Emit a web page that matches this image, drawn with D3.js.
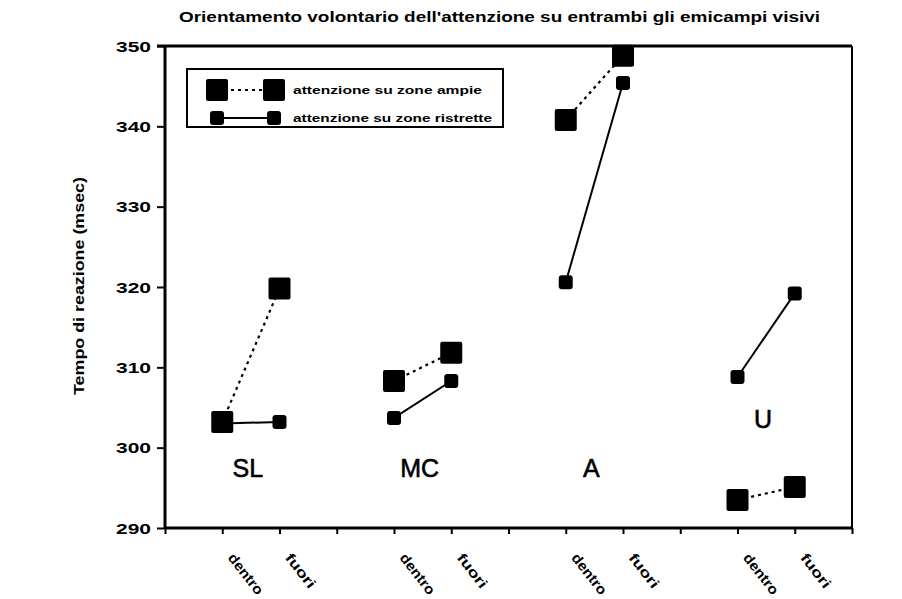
<!DOCTYPE html>
<html>
<head>
<meta charset="utf-8">
<script src="https://cdn.jsdelivr.net/npm/d3@7"></script>
<style>
  html, body { margin: 0; padding: 0; background: #fff; }
  svg { display: block; }
  text { font-family: "Liberation Sans", Arial, sans-serif; fill: #000; }
</style>
</head>
<body>
<svg id="chart" width="902" height="599"></svg>
<script>
// ---- data ----
const categories = ["SL", "MC", "A", "U"];
const conditions = ["dentro", "fuori"];
const ampieDentro = [303.2, 308.3, 340.8, 293.5];
const ampieFuori  = [319.8, 311.8, 348.8, 295.1];
const ristretteDentro = [303.0, 303.7, 320.6, 308.8];
const ristretteFuori  = [303.2, 308.3, 345.4, 319.2];
const yTicks = [290, 300, 310, 320, 330, 340, 350];
const groupLabelY = [296.3, 296.3, 296.3, 302.4];
const title = "Orientamento volontario dell'attenzione su entrambi gli emicampi visivi";
const yTitle = "Tempo di reazione (msec)";
const legendLabels = ["attenzione su zone ampie", "attenzione su zone ristrette"];

// ---- layout ----
const svg = d3.select("#chart");
const L = 165, R = 852, T = 46, B = 528;
const x = d3.scaleLinear().domain([0, 12]).range([L, R]);
const y = d3.scaleLinear().domain([290, 350]).range([B, T]);

// positions: group g -> dentro at 3g+1, fuori at 3g+2
const pos = (g, c) => 3 * g + 1 + c;

// title
svg.append("text")
  .attr("x", 179).attr("y", 22)
  .attr("font-size", 14).attr("font-weight", "bold")
  .attr("textLength", 641).attr("lengthAdjust", "spacingAndGlyphs")
  .text(title);

// y axis title
svg.append("text")
  .attr("transform", `translate(84,${(177 + 395) / 2}) rotate(-90)`)
  .attr("text-anchor", "middle")
  .attr("font-size", 15).attr("font-weight", "bold")
  .attr("textLength", 218).attr("lengthAdjust", "spacingAndGlyphs")
  .text(yTitle);

// frame top/right
svg.append("line").attr("x1", L - 8).attr("x2", R).attr("y1", T).attr("y2", T)
  .attr("stroke", "#000").attr("stroke-width", 3);
svg.append("line").attr("x1", R).attr("x2", R).attr("y1", T).attr("y2", B)
  .attr("stroke", "#000").attr("stroke-width", 2);

// y axis
const yAxis = d3.axisLeft(y).tickValues(yTicks).tickSize(8).tickPadding(6).tickFormat(d3.format("d"));
const gy = svg.append("g").attr("transform", `translate(${L},0)`).call(yAxis);
gy.select(".domain").attr("stroke-width", 3).attr("d", `M0,${T}V${B}`);
gy.selectAll(".tick line").attr("stroke-width", 2);
gy.selectAll(".tick text")
  .attr("font-family", "Liberation Sans, Arial, sans-serif")
  .attr("font-size", 15).attr("font-weight", "bold")
  .attr("textLength", 35).attr("lengthAdjust", "spacingAndGlyphs")
  .attr("dy", "0.35em");

// x axis
const xAxis = d3.axisBottom(x).tickValues(d3.range(0, 13)).tickSize(6).tickFormat("");
const gx = svg.append("g").attr("transform", `translate(0,${B})`).call(xAxis);
gx.select(".domain").attr("stroke-width", 3).attr("d", `M${L},0H${R}`);
gx.selectAll(".tick line").attr("stroke-width", 2);

// x tick labels (rotated)
const xLabels = [];
categories.forEach((c, g) => conditions.forEach((cond, k) => xLabels.push({ v: pos(g, k), t: cond })));
svg.append("g").selectAll("text").data(xLabels).join("text")
  .attr("transform", d => `translate(${x(d.v) + 5},${B + 30}) rotate(52)`)
  .attr("font-size", 14).attr("font-weight", "bold")
  .attr("textLength", d => d.t === "dentro" ? 48 : 40)
  .attr("lengthAdjust", "spacingAndGlyphs")
  .text(d => d.t);

// series lines
const line = d3.line().x(d => x(d[0])).y(d => y(d[1]));
const plot = svg.append("g");
categories.forEach((c, g) => {
  plot.append("path")
    .datum([[pos(g, 0), ampieDentro[g]], [pos(g, 1), ampieFuori[g]]])
    .attr("d", line).attr("fill", "none").attr("stroke", "#000")
    .attr("stroke-width", 2.2).attr("stroke-dasharray", "3,4");
  plot.append("path")
    .datum([[pos(g, 0), ristretteDentro[g]], [pos(g, 1), ristretteFuori[g]]])
    .attr("d", line).attr("fill", "none").attr("stroke", "#000")
    .attr("stroke-width", 2);
});

// markers
const bigS = 22, smallS = 14;
const ampiePts = [], ristPts = [];
categories.forEach((c, g) => {
  ampiePts.push([pos(g, 0), ampieDentro[g]], [pos(g, 1), ampieFuori[g]]);
  ristPts.push([pos(g, 0), ristretteDentro[g]], [pos(g, 1), ristretteFuori[g]]);
});
plot.selectAll(".rmk").data(ristPts).join("rect").attr("class", "rmk")
  .attr("x", d => x(d[0]) - smallS / 2).attr("y", d => y(d[1]) - smallS / 2)
  .attr("width", smallS).attr("height", smallS).attr("rx", 3).attr("fill", "#000");
plot.selectAll(".amk").data(ampiePts).join("rect").attr("class", "amk")
  .attr("x", d => x(d[0]) - bigS / 2).attr("y", d => y(d[1]) - bigS / 2)
  .attr("width", bigS).attr("height", bigS).attr("rx", 2).attr("fill", "#000");

// group labels
svg.append("g").selectAll("text").data(categories).join("text")
  .attr("x", (d, i) => x(3 * i + 1.5) - 3).attr("y", (d, i) => y(groupLabelY[i]))
  .attr("text-anchor", "middle").attr("font-size", 25)
  .attr("stroke", "#000").attr("stroke-width", 0.6)
  .text(d => d);

// legend
const lg = svg.append("g");
lg.append("rect").attr("x", 187).attr("y", 69).attr("width", 316).attr("height", 58)
  .attr("fill", "#fff").attr("stroke", "#000").attr("stroke-width", 2);
const legRows = [
  { yy: 90, dash: "3,4", size: bigS, rx: 2 },
  { yy: 118, dash: null, size: smallS, rx: 3 }
];
legRows.forEach((r, i) => {
  lg.append("line").attr("x1", 217).attr("x2", 274).attr("y1", r.yy).attr("y2", r.yy)
    .attr("stroke", "#000").attr("stroke-width", 2)
    .attr("stroke-dasharray", r.dash);
  [217, 274].forEach(cx => lg.append("rect")
    .attr("x", cx - r.size / 2).attr("y", r.yy - r.size / 2)
    .attr("width", r.size).attr("height", r.size).attr("rx", r.rx).attr("fill", "#000"));
  lg.append("text").attr("x", 293).attr("y", r.yy + 4)
    .attr("font-size", 11).attr("font-weight", "bold")
    .attr("textLength", i === 0 ? 189 : 199).attr("lengthAdjust", "spacingAndGlyphs")
    .text(legendLabels[i]);
});
</script>
</body>
</html>
